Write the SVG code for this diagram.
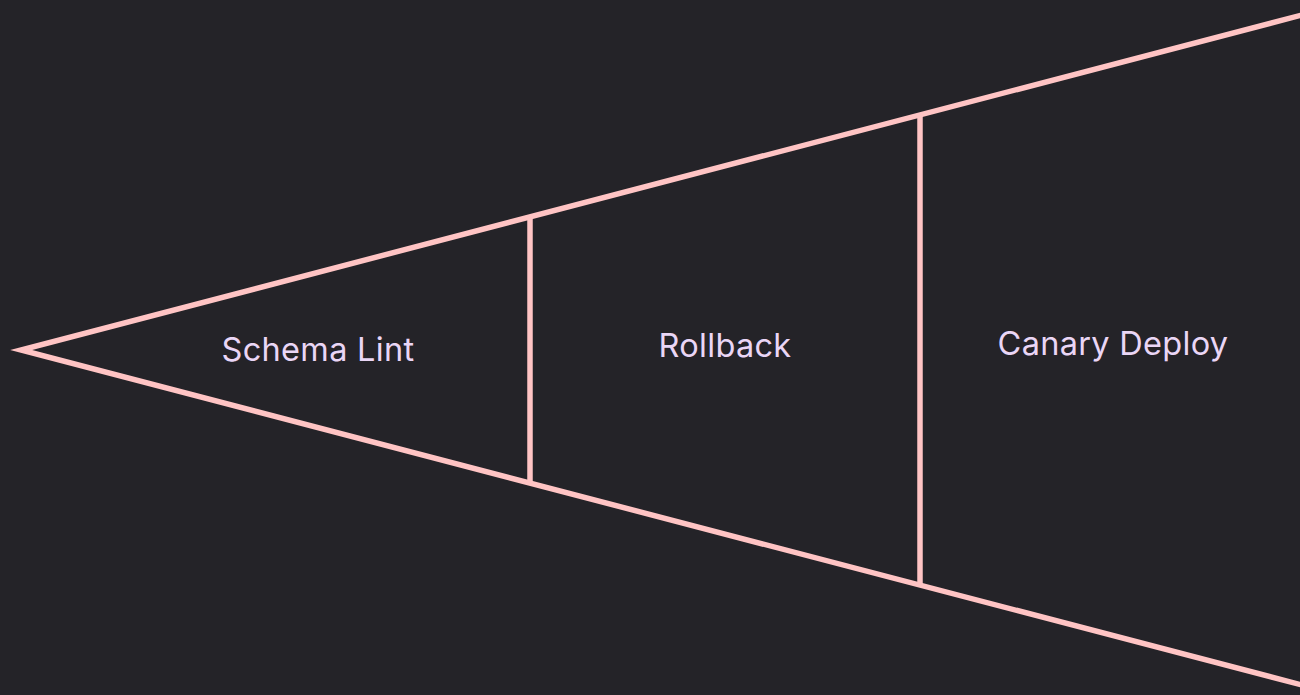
<svg xmlns="http://www.w3.org/2000/svg" width="1300" height="695" viewBox="0 0 1300 695">
<style>
.edge{fill:none;stroke:#ffc4c4;stroke-width:5.5;stroke-linejoin:miter}
.lbl{font-family:Inter,"Open Sans",sans-serif;font-size:32.5px;letter-spacing:0.3px;fill:#ead6f6;text-anchor:middle;dominant-baseline:central}
</style>
<rect width="1300" height="695" fill="#242328"/>
<g id="connectors">
<polyline class="edge" points="1320,10.3 21,350 1320,689.7"/>
<line class="edge" x1="530" y1="216.5" x2="530" y2="483.5"/>
<line class="edge" x1="920" y1="114.5" x2="920" y2="585.5"/>
</g>
<g id="schema-lint"><text class="lbl" x="318" y="349">Schema Lint</text></g>
<g id="rollback"><text class="lbl" x="725" y="345">Rollback</text></g>
<g id="canary-deploy"><text class="lbl" x="1113" y="343">Canary Deploy</text></g>
</svg>
